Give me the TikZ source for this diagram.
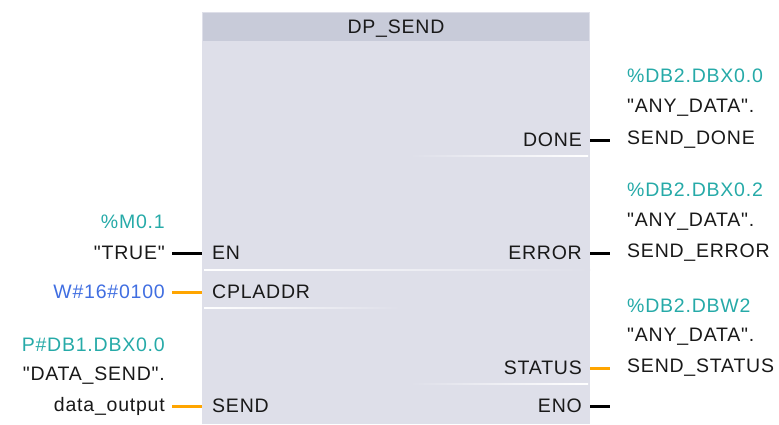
\documentclass[tikz,border=0pt]{standalone}
\usepackage{fontspec}
\setmainfont{Liberation Sans}[LetterSpace=4, Ligatures=TeXOff]
\definecolor{hdrfill}{RGB}{200,203,217}
\definecolor{bodyfill}{RGB}{222,223,233}
\definecolor{opcyan}{RGB}{38,170,168}
\definecolor{opblue}{RGB}{64,110,225}
\definecolor{wireorange}{RGB}{255,165,0}
\definecolor{txt}{RGB}{25,25,25}
\newcommand{\qt}{\symbol{34}}
\begin{document}
\begin{tikzpicture}[x=1pt,y=-1pt,
  lbl/.style={font=\fontsize{19.5}{22}\selectfont, text=txt, inner sep=0pt},
  pinl/.style={lbl, anchor=west},
  pinr/.style={lbl, anchor=east},
  bitwire/.style={line width=3pt, black},
  datawire/.style={line width=3pt, wireorange}
]
\useasboundingbox (0,0) rectangle (779,424);
% block body and title bar
\fill[bodyfill] (202,12) rectangle (590,424);
\fill[hdrfill] (203,13) rectangle (589,41);
\node[lbl] (title) at (396,29) {DP\_SEND};
% row separators
\shade[left color=white, right color=bodyfill] (204,269.5) rectangle (590,270.7);
\shade[left color=white, right color=bodyfill] (204,307.5) rectangle (400,308.7);
\shade[left color=bodyfill, right color=white] (410,155.5) rectangle (588,156.7);
\shade[left color=bodyfill, right color=white] (410,383.5) rectangle (588,384.7);
% input pins
\node[pinl] (en) at (212,253) {EN};
\node[pinl] (cpl) at (212,292) {CPLADDR};
\node[pinl] (send) at (212,406) {SEND};
% output pins
\node[pinr] (done) at (582,140) {DONE};
\node[pinr] (err) at (582,253) {ERROR};
\node[pinr] (stat) at (582,368) {STATUS};
\node[pinr] (eno) at (582,406) {ENO};
% pin stubs at the block edge
\coordinate (enL) at (202,253);
\coordinate (cplL) at (202,292);
\coordinate (sendL) at (202,406);
\coordinate (doneR) at (590,140);
\coordinate (errR) at (590,253);
\coordinate (statR) at (590,368);
\coordinate (enoR) at (590,406);
\coordinate (enoE) at (610,406);
% operands on the left
\node[lbl, anchor=east, text=opcyan] (m01) at (165,222) {\%M0.1};
\node[lbl, anchor=east] (true) at (165,253) {\qt TRUE\qt};
\node[lbl, anchor=east, text=opblue] (w16) at (165,292) {W\#16\#0100};
\node[lbl, anchor=east, text=opcyan] (pdb) at (165,345) {P\#DB1.DBX0.0};
\node[lbl, anchor=east] (dsend) at (165,376) {\qt DATA\_SEND\qt.};
\node[lbl, anchor=east] (dout) at (165,406) {data\_output};
% operands on the right
\node[lbl, anchor=west, text=opcyan] (a1) at (627,76) {\%DB2.DBX0.0};
\node[lbl, anchor=west] (b1) at (627,108) {\qt ANY\_DATA\qt.};
\node[lbl, anchor=west] (c1) at (627,140) {SEND\_DONE};
\node[lbl, anchor=west, text=opcyan] (a2) at (627,190) {\%DB2.DBX0.2};
\node[lbl, anchor=west] (b2) at (627,222) {\qt ANY\_DATA\qt.};
\node[lbl, anchor=west] (c2) at (627,253) {SEND\_ERROR};
\node[lbl, anchor=west, text=opcyan] (a3) at (627,306) {\%DB2.DBW2};
\node[lbl, anchor=west] (b3) at (627,337) {\qt ANY\_DATA\qt.};
\node[lbl, anchor=west] (c3) at (627,368) {SEND\_STATUS};
% wires
\draw[bitwire] ([xshift=7pt]true.east) -- (enL);
\draw[datawire] ([xshift=7pt]w16.east) -- (cplL);
\draw[datawire] ([xshift=7pt]dout.east) -- (sendL);
\draw[bitwire] (doneR) -- ([xshift=-17pt]c1.west);
\draw[bitwire] (errR) -- ([xshift=-17pt]c2.west);
\draw[datawire] (statR) -- ([xshift=-17pt]c3.west);
\draw[bitwire] (enoR) -- (enoE);
\end{tikzpicture}
\end{document}
